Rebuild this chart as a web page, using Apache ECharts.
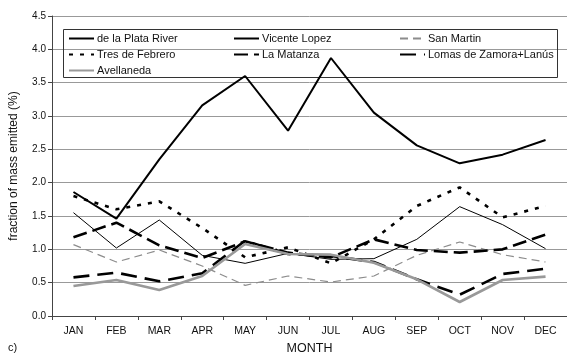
<!DOCTYPE html>
<html>
<head>
<meta charset="utf-8">
<script src="https://cdn.jsdelivr.net/npm/echarts@6/dist/echarts.min.js"></script>
<style>
  html, body { margin: 0; padding: 0; background: #fff; }
  #chart { width: 567px; height: 360px; }
</style>
</head>
<body>
<div id="chart"></div>
<script>
// Monthly fraction of emitted mass (%) per district
const months = ['JAN', 'FEB', 'MAR', 'APR', 'MAY', 'JUN', 'JUL', 'AUG', 'SEP', 'OCT', 'NOV', 'DEC'];
const yTicks = [0, 0.5, 1.0, 1.5, 2.0, 2.5, 3.0, 3.5, 4.0, 4.5];

const plataRiver   = [1.86, 1.46, 2.35, 3.16, 3.60, 2.78, 3.87, 3.05, 2.56, 2.29, 2.42, 2.64];
const vicenteLopez = [1.55, 1.02, 1.44, 0.91, 0.79, 0.94, 0.85, 0.86, 1.15, 1.64, 1.37, 1.01];
const sanMartin    = [1.07, 0.81, 0.99, 0.75, 0.46, 0.60, 0.51, 0.60, 0.91, 1.11, 0.92, 0.81];
const tresFebrero  = [1.80, 1.60, 1.72, 1.32, 0.88, 1.03, 0.79, 1.15, 1.65, 1.93, 1.48, 1.65];
const laMatanza    = [1.18, 1.40, 1.06, 0.87, 1.12, 0.95, 0.88, 1.15, 0.99, 0.95, 1.00, 1.22];
const lomasLanus   = [0.58, 0.65, 0.52, 0.64, 1.13, 0.93, 0.90, 0.81, 0.55, 0.32, 0.63, 0.71];
const avellaneda   = [0.45, 0.54, 0.39, 0.60, 1.08, 0.93, 0.92, 0.80, 0.55, 0.21, 0.54, 0.59];

const FONT = 'Liberation Sans, Arial, sans-serif';

function mk(name, data, color, width, dash) {
  return {
    name: name,
    type: 'line',
    data: data,
    symbol: 'none',
    animation: false,
    lineStyle: { color: color, width: width, type: dash || 'solid' },
    itemStyle: { color: color }
  };
}

const series = [
  mk('de la Plata River', plataRiver, '#000', 2),
  mk('Vicente Lopez', vicenteLopez, '#000', 1),
  mk('San Martin', sanMartin, '#8c8c8c', 1.2, [8, 5]),
  mk('Tres de Febrero', tresFebrero, '#000', 2.6, [4, 7]),
  mk('La Matanza', laMatanza, '#000', 2.6, [14, 6]),
  mk('Lomas de Zamora+Lanús', lomasLanus, '#000', 2.6, [16, 8]),
  mk('Avellaneda', avellaneda, '#999', 2.6)
];

function legendCol(names, left) {
  return {
    data: names,
    orient: 'vertical',
    left: left,
    top: 33,
    padding: 0,
    itemGap: 5,
    itemWidth: 25,
    itemHeight: 12,
    selectedMode: false,
    itemStyle: { opacity: 0, borderWidth: 0 },
    textStyle: { fontFamily: FONT, fontSize: 11, color: '#111', padding: [0, 0, 0, -2] }
  };
}

const chart = echarts.init(document.getElementById('chart'), null, { renderer: 'canvas' });
chart.setOption({
  backgroundColor: '#fff',
  animation: false,
  grid: { left: 49, top: 16, width: 522, height: 305, containLabel: false },
  legend: [
    legendCol(['de la Plata River', 'Tres de Febrero', 'Avellaneda'], 68),
    legendCol(['Vicente Lopez', 'La Matanza'], 233),
    legendCol(['San Martin', 'Lomas de Zamora+Lanús'], 399)
  ],
  graphic: [
    { type: 'rect', shape: { x: 63.5, y: 29.5, width: 494, height: 48 },
      style: { fill: null, stroke: '#333', lineWidth: 1 }, z: 1 },
    { type: 'text', left: 8, top: 342,
      style: { text: 'c)', font: '11px ' + FONT, fill: '#111' } }
  ],
  xAxis: {
    type: 'category',
    data: months,
    boundaryGap: true,
    name: 'MONTH',
    nameLocation: 'middle',
    nameGap: 26,
    nameTextStyle: { fontFamily: FONT, fontSize: 12.5, color: '#111' },
    axisLine: { lineStyle: { color: '#444', width: 1 } },
    axisTick: { show: true, length: 4, lineStyle: { color: '#444' } },
    axisLabel: { fontFamily: FONT, fontSize: 10.5, color: '#111', margin: 10 },
    splitLine: { show: false }
  },
  yAxis: {
    type: 'value',
    min: yTicks[0],
    max: yTicks[yTicks.length - 1],
    interval: 0.5,
    name: 'fraction of mass emitted (%)',
    nameLocation: 'middle',
    nameGap: 32,
    nameRotate: 90,
    nameTextStyle: { fontFamily: FONT, fontSize: 12, color: '#111' },
    axisLine: { show: true, lineStyle: { color: '#444', width: 1 } },
    axisTick: { show: true, length: 4, inside: false, lineStyle: { color: '#444' } },
    axisLabel: { fontFamily: FONT, fontSize: 10, color: '#111', margin: 6,
      formatter: v => v.toFixed(1) },
    splitLine: { show: true, lineStyle: { color: '#999', width: 1 } }
  },
  series: series
});
</script>
</body>
</html>
